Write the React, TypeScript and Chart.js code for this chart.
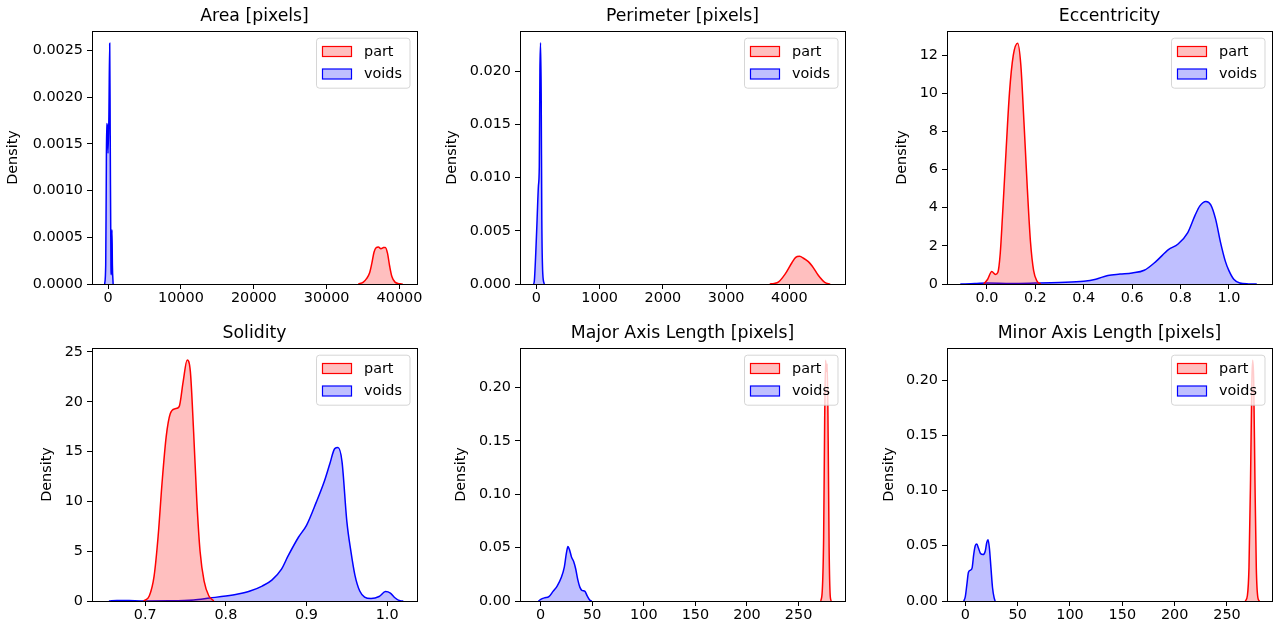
import React, { useEffect, useRef } from 'react';
import { Chart, registerables } from 'chart.js';

Chart.register(...registerables);

const FONT = 'DejaVu Sans';
const seriesLabels = ['part', 'voids'];
const yAxisLabel = 'Density';

// ---------- Area [pixels] ----------
const areaTitle = 'Area [pixels]';
const areaPartX = [34350, 35036, 35500, 35900, 36200, 36500, 36800, 37100, 37450, 37800, 38050, 38350, 38650, 38950, 39380, 40069, 40435];
const areaPartY = [0, 0.00002, 0.00006, 0.00012, 0.00022, 0.00034, 0.00039, 0.000395, 0.000378, 0.00039, 0.000392, 0.00033, 0.00019, 0.00008, 0.00002, 0.000002, 0];
const areaVoidsX = [-460, -320, -250, -190, -100, 0, 120, 230, 300, 400, 460, 540, 600, 700];
const areaVoidsY = [0, 0.0002, 0.001, 0.00172, 0.0017, 0.0014, 0.0018, 0.00258, 0.0016, 0.0002, 0.0001, 0.00058, 0.0002, 0];
const areaXTicks = [0, 10000, 20000, 30000, 40000];
const areaXLabels = ['0', '10000', '20000', '30000', '40000'];
const areaYTicks = [0, 0.0005, 0.001, 0.0015, 0.002, 0.0025];
const areaYLabels = ['0.0000', '0.0005', '0.0010', '0.0015', '0.0020', '0.0025'];

// ---------- Perimeter [pixels] ----------
const perimTitle = 'Perimeter [pixels]';
const perimPartX = [3690, 3760, 3830, 3930, 4040, 4100, 4160, 4230, 4300, 4360, 4460, 4560, 4645];
const perimPartY = [0, 0.00005, 0.0002, 0.0009, 0.002, 0.0025, 0.0026, 0.0024, 0.0021, 0.0017, 0.0008, 0.00015, 0];
const perimVoidsX = [-45, -33, -10, 10, 31, 45, 55, 65, 75, 85, 100, 125];
const perimVoidsY = [0, 0.0003, 0.003, 0.006, 0.0092, 0.011, 0.02, 0.0227, 0.018, 0.006, 0.001, 0];
const perimXTicks = [0, 1000, 2000, 3000, 4000];
const perimXLabels = ['0', '1000', '2000', '3000', '4000'];
const perimYTicks = [0, 0.005, 0.01, 0.015, 0.02];
const perimYLabels = ['0.000', '0.005', '0.010', '0.015', '0.020'];

// ---------- Eccentricity ----------
const eccTitle = 'Eccentricity';
const eccPartX = [-0.013, 0.003, 0.02, 0.035, 0.045, 0.055, 0.064, 0.077, 0.093, 0.109, 0.127, 0.14, 0.153, 0.167, 0.18, 0.193, 0.207, 0.222];
const eccPartY = [0, 0.25, 0.65, 0.5, 0.6, 1.6, 3.5, 6.5, 10, 12.0, 12.63, 11.5, 8.5, 5.0, 2.2, 0.7, 0.15, 0];
const eccVoidsX = [-0.11, -0.05, 0.0, 0.1, 0.2, 0.3, 0.4, 0.45, 0.5, 0.55, 0.6, 0.65, 0.7, 0.75, 0.79, 0.83, 0.86, 0.88, 0.905, 0.925, 0.945, 0.965, 0.985, 1.0, 1.02, 1.045, 1.08, 1.115];
const eccVoidsY = [0, 0.02, 0.05, 0.03, 0.05, 0.08, 0.14, 0.25, 0.45, 0.52, 0.58, 0.72, 1.2, 1.8, 2.1, 2.7, 3.6, 4.1, 4.33, 4.15, 3.4, 2.2, 1.2, 0.7, 0.25, 0.05, 0.005, 0];
const eccXTicks = [0, 0.2, 0.4, 0.6, 0.8, 1.0];
const eccXLabels = ['0.0', '0.2', '0.4', '0.6', '0.8', '1.0'];
const eccYTicks = [0, 2, 4, 6, 8, 10, 12];
const eccYLabels = ['0', '2', '4', '6', '8', '10', '12'];

// ---------- Solidity ----------
const solTitle = 'Solidity';
const solPartX = [0.698, 0.705, 0.711, 0.716, 0.721, 0.726, 0.731, 0.737, 0.742, 0.747, 0.752, 0.756, 0.76, 0.764, 0.768, 0.773, 0.779, 0.785];
const solPartY = [0, 0.5, 2.5, 6.5, 12, 16.5, 18.8, 19.3, 19.5, 22, 24.2, 23, 17, 10, 5, 2, 0.5, 0];
const solVoidsX = [0.655, 0.665, 0.68, 0.7, 0.73, 0.76, 0.78, 0.8, 0.815, 0.83, 0.845, 0.857, 0.869, 0.877, 0.89, 0.9, 0.912, 0.922, 0.929, 0.935, 0.939, 0.944, 0.95, 0.955, 0.96, 0.966, 0.972, 0.98, 0.99, 0.998, 1.004, 1.01, 1.016, 1.02];
const solVoidsY = [0, 0.06, 0.04, 0.01, 0.02, 0.1, 0.3, 0.5, 0.7, 1.0, 1.5, 2.1, 3.2, 4.5, 6.4, 7.6, 9.9, 12.0, 13.8, 15.3, 15.4, 14.0, 8.0, 5.0, 2.6, 1.0, 0.4, 0.25, 0.45, 0.95, 0.8, 0.3, 0.03, 0];
const solXTicks = [0.7, 0.8, 0.9, 1.0];
const solXLabels = ['0.7', '0.8', '0.9', '1.0'];
const solYTicks = [0, 5, 10, 15, 20, 25];
const solYLabels = ['0', '5', '10', '15', '20', '25'];

// ---------- Major Axis Length [pixels] ----------
const majTitle = 'Major Axis Length [pixels]';
const majPartX = [271.5, 273, 274.3, 275.3, 276.2, 277, 277.8, 278.7, 279.6, 280.5, 281.5];
const majPartY = [0, 0.01, 0.06, 0.17, 0.2255, 0.215, 0.222, 0.15, 0.05, 0.008, 0];
const majVoidsX = [-2.2, 1, 4, 8, 12, 16, 20, 23, 25, 26.5, 28, 30, 32, 34, 36, 38, 40, 43, 45, 47.5, 49.5];
const majVoidsY = [0, 0.002, 0.003, 0.004, 0.009, 0.014, 0.022, 0.032, 0.045, 0.051, 0.048, 0.041, 0.037, 0.03, 0.02, 0.013, 0.01, 0.009, 0.005, 0.001, 0];
const majXTicks = [0, 50, 100, 150, 200, 250];
const majXLabels = ['0', '50', '100', '150', '200', '250'];
const majYTicks = [0, 0.05, 0.1, 0.15, 0.2];
const majYLabels = ['0.00', '0.05', '0.10', '0.15', '0.20'];

// ---------- Minor Axis Length [pixels] ----------
const minTitle = 'Minor Axis Length [pixels]';
const minPartX = [267.5, 269.5, 271, 272.5, 273.8, 274.6, 275.5, 276.7, 278, 279.5, 281];
const minPartY = [0, 0.005, 0.03, 0.11, 0.2, 0.218, 0.2, 0.11, 0.03, 0.003, 0];
const minVoidsX = [-1.5, 0, 1.5, 3, 5, 6.5, 8, 9.5, 11, 12.5, 14.5, 17, 19, 20.5, 21.7, 23, 24.5, 26, 27.5, 28.5];
const minVoidsY = [0, 0.004, 0.015, 0.026, 0.028, 0.03, 0.042, 0.05, 0.0515, 0.048, 0.043, 0.042, 0.045, 0.053, 0.0555, 0.048, 0.03, 0.012, 0.003, 0];
const minXTicks = [0, 50, 100, 150, 200, 250];
const minXLabels = ['0', '50', '100', '150', '200', '250'];
const minYTicks = [0, 0.05, 0.1, 0.15, 0.2];
const minYLabels = ['0.00', '0.05', '0.10', '0.15', '0.20'];

// ---------- panel layout (positions only) ----------
type PanelDef = {
  title: string;
  partX: number[]; partY: number[]; voidsX: number[]; voidsY: number[];
  xTicks: number[]; xLabels: string[]; yTicks: number[]; yLabels: string[];
  xMin: number; xMax: number; yMax: number;
  left: number; top: number; yW: number; rp: number; xH: number;
};

const PLOT_W = 325;
const PLOT_H = 253;
const TITLE_H = 31;

const panels: PanelDef[] = [
  { title: areaTitle, partX: areaPartX, partY: areaPartY, voidsX: areaVoidsX, voidsY: areaVoidsY,
    xTicks: areaXTicks, xLabels: areaXLabels, yTicks: areaYTicks, yLabels: areaYLabels,
    xMin: -2200, xMax: 42400, yMax: 0.00271, left: 5, top: 0, yW: 87, rp: 8, xH: 30 },
  { title: perimTitle, partX: perimPartX, partY: perimPartY, voidsX: perimVoidsX, voidsY: perimVoidsY,
    xTicks: perimXTicks, xLabels: perimXLabels, yTicks: perimYTicks, yLabels: perimYLabels,
    xMin: -260, xMax: 4880, yMax: 0.0238, left: 444, top: 0, yW: 76, rp: 8, xH: 30 },
  { title: eccTitle, partX: eccPartX, partY: eccPartY, voidsX: eccVoidsX, voidsY: eccVoidsY,
    xTicks: eccXTicks, xLabels: eccXLabels, yTicks: eccYTicks, yLabels: eccYLabels,
    xMin: -0.165, xMax: 1.178, yMax: 13.27, left: 894, top: 0, yW: 53, rp: 3, xH: 30 },
  { title: solTitle, partX: solPartX, partY: solPartY, voidsX: solVoidsX, voidsY: solVoidsY,
    xTicks: solXTicks, xLabels: solXLabels, yTicks: solYTicks, yLabels: solYLabels,
    xMin: 0.634, xMax: 1.037, yMax: 25.4, left: 39, top: 317, yW: 53, rp: 8, xH: 29 },
  { title: majTitle, partX: majPartX, partY: majPartY, voidsX: majVoidsX, voidsY: majVoidsY,
    xTicks: majXTicks, xLabels: majXLabels, yTicks: majYTicks, yLabels: majYLabels,
    xMin: -20, xMax: 295, yMax: 0.237, left: 453, top: 317, yW: 67, rp: 8, xH: 29 },
  { title: minTitle, partX: minPartX, partY: minPartY, voidsX: minVoidsX, voidsY: minVoidsY,
    xTicks: minXTicks, xLabels: minXLabels, yTicks: minYTicks, yLabels: minYLabels,
    xMin: -17.5, xMax: 293, yMax: 0.229, left: 881, top: 317, yW: 66, rp: 3, xH: 29 },
];

const zip = (xs: number[], ys: number[]) => xs.map((x, i) => ({ x, y: ys[i] }));

const framePlugin = {
  id: 'mplFrame',
  afterDraw(chart: any) {
    const { ctx, chartArea: a } = chart;
    ctx.save();
    ctx.strokeStyle = '#000';
    ctx.lineWidth = 1;
    ctx.strokeRect(a.left + 0.5, a.top + 0.5, a.right - a.left, a.bottom - a.top);
    ctx.restore();

    // legend (upper right, matplotlib style)
    const w = 93.5, h = 50;
    const bx = a.right - 7.5 - w;
    const by = a.top + 6.7;
    ctx.save();
    ctx.beginPath();
    if ((ctx as any).roundRect) (ctx as any).roundRect(bx + 0.5, by + 0.5, w, h, 3);
    else ctx.rect(bx + 0.5, by + 0.5, w, h);
    ctx.fillStyle = 'rgba(255,255,255,0.8)';
    ctx.fill();
    ctx.strokeStyle = 'rgba(204,204,204,0.8)';
    ctx.lineWidth = 1;
    ctx.stroke();
    chart.data.datasets.forEach((ds: any, i: number) => {
      const cy = a.top + 20.5 + i * 22.5;
      const px = bx + 6.5;
      ctx.fillStyle = ds.backgroundColor;
      ctx.fillRect(px, cy - 5, 29, 10);
      ctx.strokeStyle = ds.borderColor;
      ctx.lineWidth = 1.2;
      ctx.strokeRect(px, cy - 5, 29, 10);
      ctx.fillStyle = '#000';
      ctx.font = `14.4px "${FONT}"`;
      ctx.textBaseline = 'middle';
      ctx.textAlign = 'left';
      ctx.fillText(ds.label, bx + 48, cy + 0.5);
    });
    ctx.restore();
  },
};

function Panel({ p }: { p: PanelDef }) {
  const ref = useRef<HTMLCanvasElement>(null);
  const width = p.yW + PLOT_W + p.rp;
  const height = TITLE_H + PLOT_H + p.xH;

  useEffect(() => {
    const tickFont = { family: FONT, size: 14.4 };
    const chart = new Chart(ref.current as HTMLCanvasElement, {
      type: 'line',
      data: {
        datasets: [
          {
            label: seriesLabels[0],
            data: zip(p.partX, p.partY),
            borderColor: 'rgb(255,0,0)',
            backgroundColor: 'rgba(255,0,0,0.25)',
            fill: 'origin',
            borderWidth: 1.5,
            pointRadius: 0,
            cubicInterpolationMode: 'monotone',
          },
          {
            label: seriesLabels[1],
            data: zip(p.voidsX, p.voidsY),
            borderColor: 'rgb(0,0,255)',
            backgroundColor: 'rgba(0,0,255,0.25)',
            fill: 'origin',
            borderWidth: 1.5,
            pointRadius: 0,
            cubicInterpolationMode: 'monotone',
          },
        ],
      },
      options: {
        responsive: false,
        animation: false,
        devicePixelRatio: 1,
        events: [],
        layout: { padding: { left: 0, right: p.rp, top: 0, bottom: 0 } },
        plugins: {
          legend: { display: false },
          tooltip: { enabled: false },
          title: {
            display: true,
            text: p.title,
            fullSize: false,
            color: '#000',
            font: { family: FONT, size: 17.3, weight: 'normal' },
            padding: { top: 6, bottom: 4.24 },
          },
        },
        scales: {
          x: {
            type: 'linear',
            min: p.xMin,
            max: p.xMax,
            bounds: 'data',
            afterBuildTicks: (s: any) => { s.ticks = p.xTicks.map((v) => ({ value: v })); },
            afterFit: (s: any) => { s.height = p.xH; s.paddingLeft = 0; s.paddingRight = 0; },
            ticks: {
              callback: (_v: any, i: number) => p.xLabels[i],
              autoSkip: false,
              maxRotation: 0,
              minRotation: 0,
              padding: 1,
              color: '#000',
              font: tickFont,
            },
            grid: { drawOnChartArea: false, drawTicks: true, tickLength: 5, tickColor: '#000', lineWidth: 1 },
            border: { display: false },
          },
          y: {
            type: 'linear',
            min: 0,
            max: p.yMax,
            bounds: 'data',
            afterBuildTicks: (s: any) => { s.ticks = p.yTicks.map((v) => ({ value: v })); },
            afterFit: (s: any) => { s.width = p.yW; s.paddingTop = 0; s.paddingBottom = 0; },
            ticks: {
              callback: (_v: any, i: number) => p.yLabels[i],
              autoSkip: false,
              padding: 4,
              color: '#000',
              font: tickFont,
            },
            grid: { drawOnChartArea: false, drawTicks: true, tickLength: 5, tickColor: '#000', lineWidth: 1 },
            border: { display: false },
            title: {
              display: true,
              text: yAxisLabel,
              color: '#000',
              font: { family: FONT, size: 14.4 },
              padding: { top: 0, bottom: 0 },
            },
          },
        },
      } as any,
      plugins: [framePlugin],
    });
    return () => chart.destroy();
  }, []);

  return (
    <canvas
      ref={ref}
      width={width}
      height={height}
      style={{ position: 'absolute', left: p.left, top: p.top, width, height, display: 'block' }}
    />
  );
}

export default function App() {
  return (
    <div style={{ position: 'absolute', left: 0, top: 0, width: 1274, height: 631, background: '#fff', overflow: 'hidden' }}>
      {panels.map((p, i) => (
        <Panel key={i} p={p} />
      ))}
    </div>
  );
}
